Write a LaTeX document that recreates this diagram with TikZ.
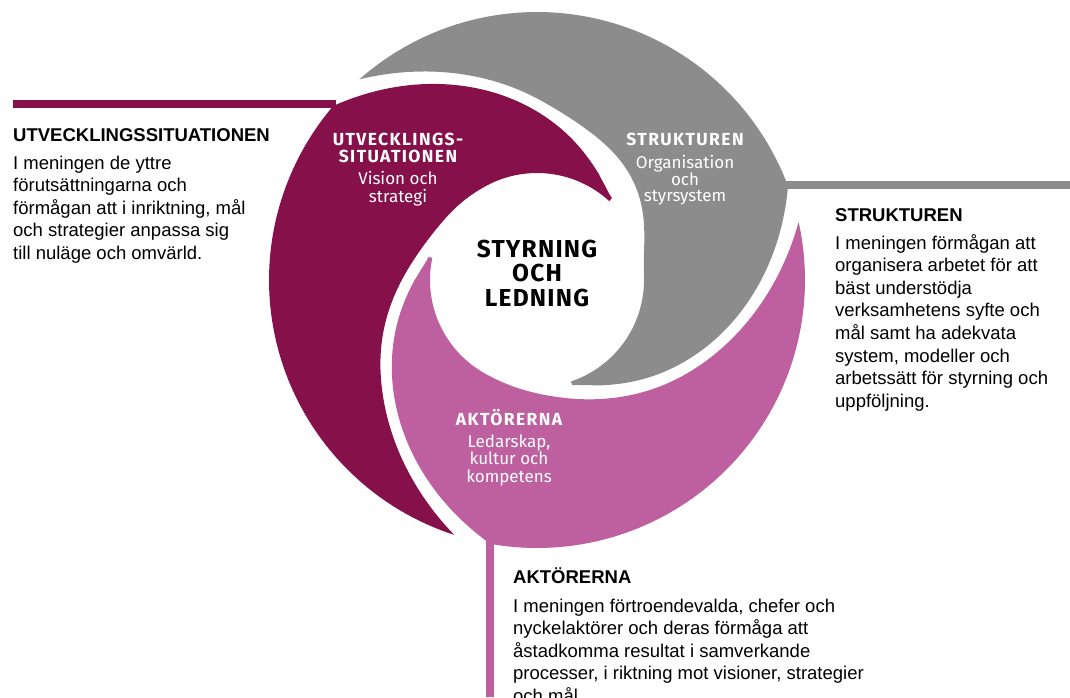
\documentclass[tikz,border=0pt]{standalone}
\usepackage{fontspec}
\setmainfont{Liberation Sans}
\newfontfamily\fira{Fira Sans}
\newfontfamily\firasp{Fira Sans}[LetterSpace=8]
\newfontfamily\firahub{Fira Sans}[LetterSpace=5]
\newcommand\txtl[1]{\begin{tabular}[t]{@{}l@{}}#1\end{tabular}}
\newcommand\txtc[1]{\begin{tabular}[t]{@{}c@{}}#1\end{tabular}}
\definecolor{cmaroon}{RGB}{134,16,74}
\definecolor{cgray}{RGB}{140,140,140}
\definecolor{cpink}{RGB}{190,96,160}
\tikzset{
  declare function={
    rs(\p)=111+157*pow(max(1-\p/92,0.00001),1.3);
    clampu(\u)=min(max(\u,0),1);
    bmp(\p)=sin(180*clampu((\p-50)/85))*sin(180*clampu((\p-50)/85));
    rin(\p,\w)=107+161*pow(max((140-\p)/132,0.00001),2.04)+\w*bmp(\p);
  },
  conn/.style={line width=7.5pt},
  shapelbl/.style={text=white, inner sep=0pt, anchor=base, font=\fontsize{17.5}{17}\selectfont\firasp\bfseries},
  shapesub/.style={text=white, inner sep=0pt, anchor=base, font=\fontsize{17}{16}\selectfont\fira},
  hub/.style={text=black, inner sep=0pt, anchor=base, font=\fontsize{24.5}{24}\selectfont\firahub\bfseries},
  head/.style={inner sep=0pt, anchor=base west, font=\fontsize{18.5}{22.6}\selectfont\bfseries},
  body/.style={inner sep=0pt, anchor=base west, font=\fontsize{18.5}{22.6}\selectfont},
  curve/.style={domain=0:1, samples=70, variable=\t}
}
\begin{document}
\begin{tikzpicture}[x=1pt,y=-1pt]
\useasboundingbox (0,0) rectangle (1070,697);
\clip (0,0) rectangle (1070,697);

% connector lines
\coordinate (uL) at (13,104);
\coordinate (uR) at (336,104);
\coordinate (sL) at (780,185);
\coordinate (sR) at (1070,185);
\coordinate (aT) at (490,535);
\coordinate (aB) at (490,697);
\draw[conn, cmaroon] (uL) -- (uR);
\draw[conn, cgray] (sL) -- (sR);
\draw[conn, cpink] (aT) -- (aB);

% maroon shape (UTVECKLINGSSITUATIONEN)
\fill[cmaroon]
  plot[curve] ({537+268*cos(252-112.5*\t)},{280-268*sin(252-112.5*\t)})
  -- plot[curve] ({537+rs(92*\t)*cos(139.5-92*\t)},{280-rs(92*\t)*sin(139.5-92*\t)})
  -- plot[curve] ({537+107*cos(47.5+72.5*\t)},{280-107*sin(47.5+72.5*\t)})
  -- plot[curve] ({537+rin(140-132*\t,-5)*cos(120+132*\t)},{280-rin(140-132*\t,-5)*sin(120+132*\t)})
  -- cycle;

% gray shape (STRUKTUREN)
\fill[cgray]
  plot[curve] ({537+268*cos(131.5-111*\t)},{280-268*sin(131.5-111*\t)})
  -- plot[curve] ({537+rs(92*\t)*cos(20.5-92*\t)},{280-rs(92*\t)*sin(20.5-92*\t)})
  -- plot[curve] ({537+107*cos(-71.5+71*\t)},{280-107*sin(-71.5+71*\t)})
  -- plot[curve] ({537+rin(140-132*\t,12)*cos(-0.5+132*\t)},{280-rin(140-132*\t,12)*sin(-0.5+132*\t)})
  -- cycle;

% pink shape (AKTÖRERNA)
\fill[cpink]
  plot[curve] ({537+268*cos(12.5-112.5*\t)},{280-268*sin(12.5-112.5*\t)})
  -- plot[curve] ({537+rs(92*\t)*cos(-100-92*\t)},{280-rs(92*\t)*sin(-100-92*\t)})
  -- plot[curve] ({537+107*cos(-192+72.5*\t)},{280-107*sin(-192+72.5*\t)})
  -- plot[curve] ({537+rin(140-132*\t,-2)*cos(-119.5+132*\t)},{280-rin(140-132*\t,-2)*sin(-119.5+132*\t)})
  -- cycle;

% labels in shapes
\node[shapelbl] (uh) at (398,145) {\txtc{UTVECKLINGS-\\SITUATIONEN}};
\node[shapesub] (us) at (398,184) {\txtc{Vision och\\strategi}};
\node[shapelbl] (sh) at (685,145) {STRUKTUREN};
\node[shapesub] (ss) at (685,168) {\txtc{Organisation\\och\\styrsystem}};
\node[shapelbl] (ah) at (509,425) {AKTÖRERNA};
\node[shapesub] (as) at (509,447) {\txtc{Ledarskap,\\kultur och\\kompetens}};
\node[hub] (hub) at (537,257) {\txtc{STYRNING\\OCH\\LEDNING}};

% side texts
\node[head] (lh) at (13,141.6) {UTVECKLINGSSITUATIONEN};
\node[body] (lb) at (13,169) {\txtl{I meningen de yttre\\förutsättningarna och\\förmågan att i inriktning, mål\\och strategier anpassa sig\\till nuläge och omvärld.}};
\node[head] (rh) at (835,221) {STRUKTUREN};
\node[body] (rb) at (835,249) {\txtl{I meningen förmågan att\\organisera arbetet för att\\bäst understödja\\verksamhetens syfte och\\mål samt ha adekvata\\system, modeller och\\arbetssätt för styrning och\\uppföljning.}};
\node[head] (bh) at (513,583) {AKTÖRERNA};
\node[body] (bb) at (513,612) {\txtl{I meningen förtroendevalda, chefer och\\nyckelaktörer och deras förmåga att\\åstadkomma resultat i samverkande\\processer, i riktning mot visioner, strategier\\och mål.}};
\end{tikzpicture}
\end{document}
